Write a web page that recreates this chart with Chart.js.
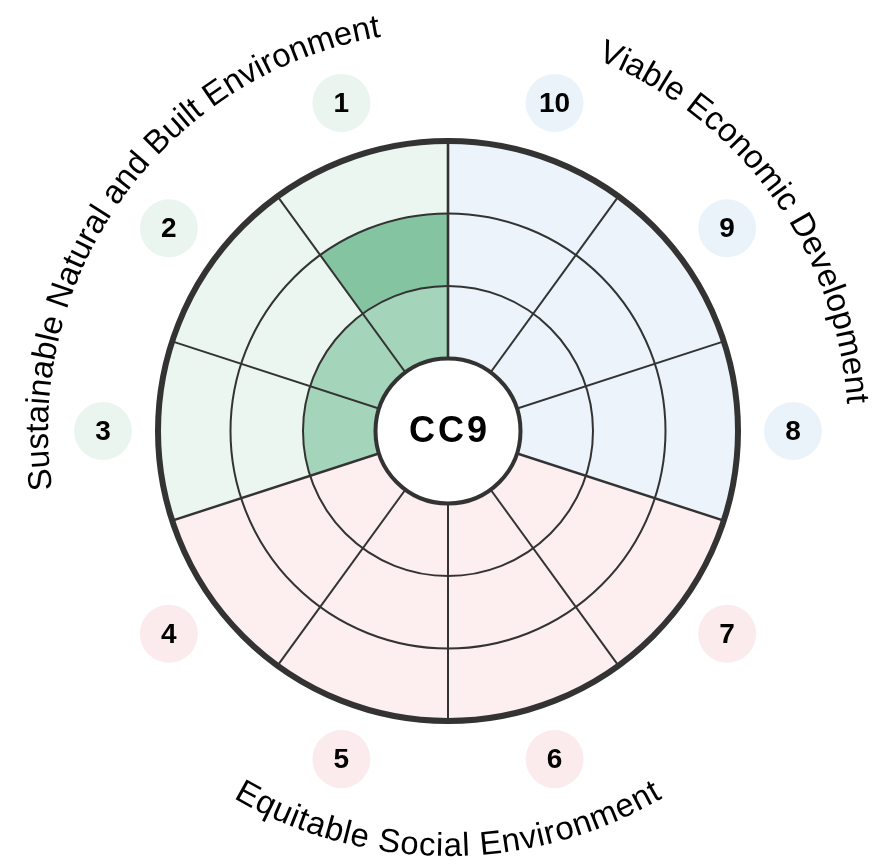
<!DOCTYPE html>
<html>
<head>
<meta charset="utf-8">
<script src="https://cdn.jsdelivr.net/npm/chart.js@4.4.1/dist/chart.umd.min.js"></script>
<style>
html,body{margin:0;padding:0;background:#fff;}
#wrap{width:876px;height:867px;position:relative;}
</style>
</head>
<body>
<div id="wrap"><canvas id="c"></canvas></div>
<script>
// ---- data ----
const categories = ['1','2','3','4','5','6','7','8','9','10'];
const groupOf    = ['env','env','env','soc','soc','soc','soc','eco','eco','eco'];
const scores     = [2, 1, 1, 0, 0, 0, 0, 0, 0, 0];
const centerLabel = 'CC9';
const groupTitles = {
  env: 'Sustainable Natural and Built Environment',
  eco: 'Viable Economic Development',
  soc: 'Equitable Social Environment'
};
const baseLevel = 1;
const maxLevel = 4;

// ---- styles ----
const bgColors     = {env:'#EBF6F0', eco:'#ECF3FA', soc:'#FDEEEF'};
const bubbleColors = {env:'#EAF5EF', eco:'#EBF3FA', soc:'#FCEBEC'};
const bandColors   = ['#A4D4BA', '#84C4A1'];
const lineColor = '#333333';

// chart draws clockwise from top: category 10 first ... category 1 last
const order = categories.map((_, j) => categories.length - 1 - j);
const labels = order.map(k => categories[k]);

const datasets = [];
bandColors.forEach((col, b) => {
  datasets.push({
    label: 'band' + (b + 1),
    data: order.map(k => scores[k] >= b + 1 ? baseLevel + b + 1 : 0),
    backgroundColor: col,
    borderWidth: 0
  });
});
datasets.push({
  label: 'background',
  data: order.map(() => maxLevel),
  backgroundColor: order.map(k => bgColors[groupOf[k]]),
  borderWidth: 0
});

function isBoundary(i) {
  const n = order.length;
  return groupOf[order[i]] !== groupOf[order[(i + n - 1) % n]];
}

function arcText(ctx, text, cx, cy, r, centerAngle, bottom, spacing) {
  // centerAngle: canvas angle (radians, from +x, clockwise)
  const W = ctx.measureText(text).width + spacing * (text.length - 1);
  ctx.textAlign = 'center';
  ctx.textBaseline = 'alphabetic';
  for (let i = 0; i < text.length; i++) {
    const ch = text[i];
    const off = ctx.measureText(text.slice(0, i)).width + spacing * i + ctx.measureText(ch).width / 2;
    let a, rot;
    if (!bottom) {
      a = centerAngle - W / (2 * r) + off / r;
      rot = a + Math.PI / 2;
    } else {
      a = centerAngle + W / (2 * r) - off / r;
      rot = a - Math.PI / 2;
    }
    ctx.save();
    ctx.translate(cx + r * Math.cos(a), cy + r * Math.sin(a));
    ctx.rotate(rot);
    ctx.fillText(ch, 0, 0);
    ctx.restore();
  }
}

const decor = {
  id: 'decor',
  afterDraw(chart) {
    const s = chart.scales.r;
    const ctx = chart.ctx;
    const cx = s.xCenter, cy = s.yCenter;
    const n = order.length;
    const step = 2 * Math.PI / n;
    ctx.save();
    // center circle
    const r0 = s.getDistanceFromCenterForValue(baseLevel);
    ctx.beginPath();
    ctx.arc(cx, cy, r0, 0, 2 * Math.PI);
    ctx.fillStyle = '#fff';
    ctx.fill();
    ctx.lineWidth = 4;
    ctx.strokeStyle = lineColor;
    ctx.stroke();
    ctx.fillStyle = '#000';
    ctx.font = 'bold 36px "Liberation Sans", Arial, sans-serif';
    ctx.letterSpacing = '3px';
    ctx.textAlign = 'center';
    ctx.textBaseline = 'middle';
    ctx.fillText(centerLabel, cx + 1.5, cy + 1);
    ctx.letterSpacing = '0px';

    // bubbles
    const rOuter = s.getDistanceFromCenterForValue(maxLevel);
    const bubbleDist = rOuter + 55;
    for (let j = 0; j < n; j++) {
      const k = order[j];
      const p = s.getPointPosition(j, bubbleDist, step / 2);
      ctx.beginPath();
      ctx.arc(p.x, p.y, 29, 0, 2 * Math.PI);
      ctx.fillStyle = bubbleColors[groupOf[k]];
      ctx.fill();
      ctx.fillStyle = '#000';
      ctx.font = 'bold 28px "Liberation Sans", Arial, sans-serif';
      ctx.textAlign = 'center';
      ctx.textBaseline = 'middle';
      ctx.fillText(categories[k], p.x, p.y + 1);
    }

    // curved group titles
    ctx.font = '33px "Liberation Sans", Arial, sans-serif';
    ctx.fillStyle = '#000';
    Object.keys(groupTitles).forEach(g => {
      const idx = [];
      for (let j = 0; j < n; j++) if (groupOf[order[j]] === g) idx.push(j);
      const a0 = s.getIndexAngle(Math.min(...idx));
      const a1 = s.getIndexAngle(Math.max(...idx)) + step;
      const mid = (a0 + a1) / 2; // from top, clockwise
      const bottom = mid > Math.PI / 2 && mid < 3 * Math.PI / 2;
      const canvasAngle = mid - Math.PI / 2;
      arcText(ctx, groupTitles[g], cx, cy, bottom ? rOuter + 135 : rOuter + 110, canvasAngle, bottom, bottom ? 0.7 : 0);
    });
    ctx.restore();
  }
};

new Chart(document.getElementById('c'), {
  type: 'polarArea',
  data: { labels, datasets },
  options: {
    responsive: true,
    maintainAspectRatio: false,
    animation: false,
    layout: { padding: { left: 158, right: 138, top: 141, bottom: 146 } },
    plugins: { legend: { display: false }, tooltip: { enabled: false } },
    scales: {
      r: {
        min: 0,
        max: maxLevel,
        ticks: { display: false, stepSize: 1 },
        pointLabels: { display: false },
        grid: {
          z: 1,
          circular: true,
          color: lineColor,
          lineWidth: c => (c.tick && c.tick.value === maxLevel) ? 6 : 2
        },
        angleLines: {
          display: true,
          color: lineColor,
          lineWidth: c => isBoundary(c.index) ? 2.6 : 2
        }
      }
    }
  },
  plugins: [decor]
});
</script>
</body>
</html>
